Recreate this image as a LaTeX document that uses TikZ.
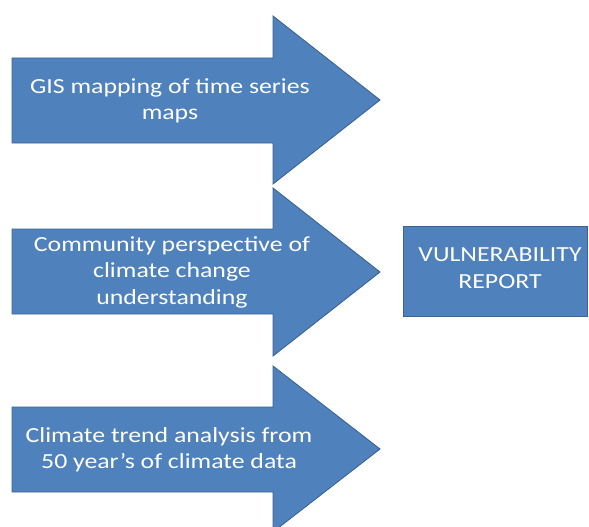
\documentclass[tikz,border=0pt]{standalone}
\usepackage{fontspec}
\setmainfont{Carlito}[FakeStretch=1.2]
\definecolor{fillblue}{HTML}{4F81BD}
\definecolor{edgeblue}{HTML}{3B6496}
\begin{document}
\begin{tikzpicture}[x=1pt,y=-1pt,
  shapeblue/.style={fill=fillblue,draw=edgeblue,line width=0.9pt,line join=miter},
  label/.style={text=white,font=\fontsize{21.5}{26.5}\selectfont,align=center,inner sep=0pt}]
\useasboundingbox (0,0) rectangle (589,527);
% arrow 1
\draw[shapeblue] (12,58) -- (273,58) -- (273,16) -- (380,100) -- (273,184) -- (273,143) -- (12,143) -- cycle;
% arrow 2
\draw[shapeblue] (12,229) -- (273,229) -- (273,188) -- (380,272) -- (273,356) -- (273,314) -- (12,314) -- cycle;
% arrow 3
\draw[shapeblue] (12,407) -- (273,407) -- (273,366) -- (380,449) -- (273,532) -- (273,492) -- (12,492) -- cycle;
% report box
\draw[shapeblue] (403,226) rectangle (587,316);
\node[label] (gis) at (170,101) {GIS mapping of time series\\maps};
\node[label] (comm) at (172,272) {Community perspective of\\climate change\\understanding};
\node[label] (trend) at (169,450) {Climate trend analysis from\\50 year’s of climate data};
\node[label] (report) at (500,268) {VULNERABILITY\\REPORT};
\end{tikzpicture}
\end{document}
